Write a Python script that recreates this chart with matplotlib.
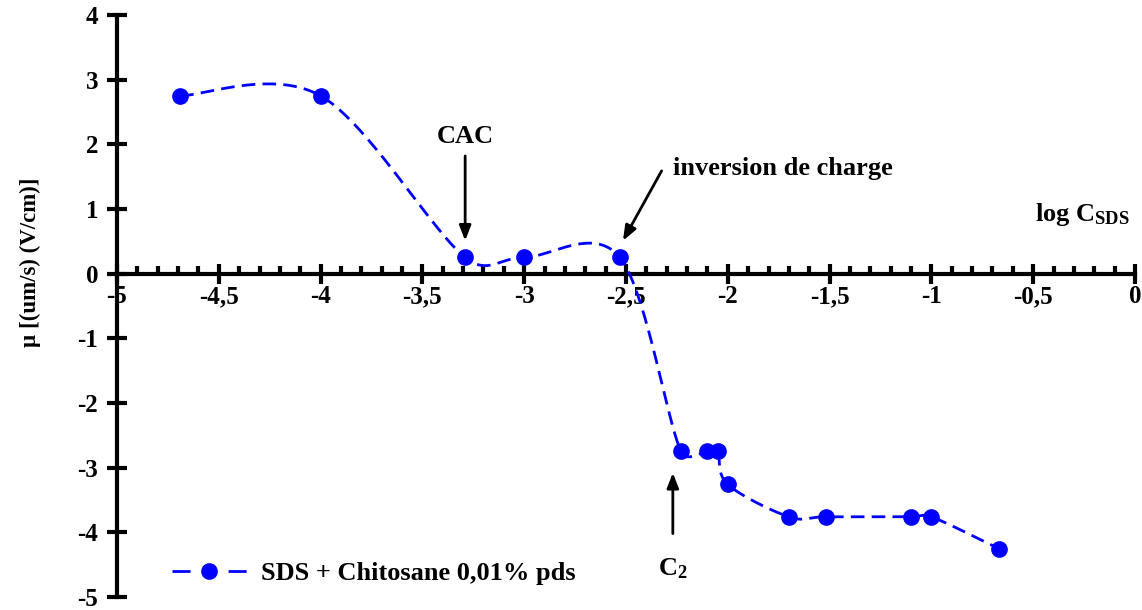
import numpy as np
import matplotlib
matplotlib.use("Agg")
import matplotlib.pyplot as plt
from matplotlib.lines import Line2D

log_c = [-4.69, -4.0, -3.29, -3.0, -2.53, -2.23, -2.10, -2.05, -2.0, -1.70, -1.52, -1.10, -1.0, -0.67]
mu = [2.75, 2.75, 0.25, 0.25, 0.25, -2.75, -2.75, -2.75, -3.26, -3.76, -3.76, -3.76, -3.76, -4.25]
x_ticks = [-5, -4.5, -4, -3.5, -3, -2.5, -2, -1.5, -1, -0.5, 0]
x_labels = ["-5", "-4,5", "-4", "-3,5", "-3", "-2,5", "-2", "-1,5", "-1", "-0,5", "0"]
y_ticks = [4, 3, 2, 1, 0, -1, -2, -3, -4, -5]
series_label = "SDS + Chitosane 0,01% pds"

plt.rcParams['font.family'] = ['Liberation Serif', 'DejaVu Serif']
plt.rcParams['font.weight'] = 'bold'
plt.rcParams['mathtext.fontset'] = 'custom'
plt.rcParams['mathtext.rm'] = 'Liberation Serif:bold'
plt.rcParams['mathtext.bf'] = 'Liberation Serif:bold'
plt.rcParams['mathtext.it'] = 'Liberation Serif:bold'

W, H = 1142, 610
XMIN, XMAX, YMIN, YMAX = -5, 0, -5, 4
ax_px = (117, 1135, 15, 597)  # left, right, top, bottom in pixels
sxp = (ax_px[1] - ax_px[0]) / (XMAX - XMIN)
syp = (ax_px[3] - ax_px[2]) / (YMAX - YMIN)


def smooth(xs, ys, n=40):
    # Excel-like smoothed line (Bezier, 1/6 tension, capped), computed in pixel space
    P = np.column_stack([np.array(xs) * sxp, np.array(ys) * syp])
    out = []
    m = len(P)
    for i in range(m - 1):
        p0 = P[i - 1] if i > 0 else P[i]
        p1 = P[i]
        p2 = P[i + 1]
        p3 = P[i + 2] if i + 2 < m else P[i + 1]
        d12 = np.linalg.norm(p2 - p1)
        t1 = (p2 - p0) / 6.0
        t2 = (p3 - p1) / 6.0
        for t in (t1, t2):
            L = np.linalg.norm(t)
            if L > d12 / 2 and L > 0:
                t *= (d12 / 2) / L
        c1 = p1 + t1
        c2 = p2 - t2
        tt = np.linspace(0, 1, n)[:, None]
        seg = ((1 - tt) ** 3) * p1 + 3 * ((1 - tt) ** 2) * tt * c1 + 3 * (1 - tt) * tt ** 2 * c2 + tt ** 3 * p2
        out.append(seg if i == 0 else seg[1:])
    arr = np.vstack(out)
    return arr[:, 0] / sxp, arr[:, 1] / syp


fig = plt.figure(figsize=(11.42, 6.10), dpi=100)
ax = fig.add_axes([ax_px[0] / W, 1 - ax_px[3] / H, (ax_px[1] - ax_px[0]) / W, (ax_px[3] - ax_px[2]) / H])
ax.set_xlim(XMIN, XMAX)
ax.set_ylim(YMIN, YMAX)
ax.patch.set_alpha(0)

blue = '#0000FF'
dash = (0, (4.9, 2.6))
sx, sy = smooth(log_c, mu)
ax.plot(sx, sy, color=blue, lw=2, linestyle=dash, zorder=3, clip_on=False)
ax.plot(log_c, mu, 'o', color=blue, ms=11, zorder=4, clip_on=False)

for s in ['top', 'right']:
    ax.spines[s].set_visible(False)
ax.spines['bottom'].set_position(('data', 0))
ax.spines['left'].set_position(('data', -5))
ax.spines['bottom'].set_linewidth(3)
ax.spines['left'].set_linewidth(3)

ax.set_xticks(x_ticks)
ax.set_xticklabels(x_labels)
ax.set_xticks(np.arange(-5, 0.001, 0.1), minor=True)
ax.set_yticks(y_ticks)
ax.set_yticklabels([str(v) for v in y_ticks])
ax.tick_params(axis='x', which='major', direction='inout', length=14.5, width=3, pad=1, labelsize=18)
ax.tick_params(axis='x', which='minor', direction='in', length=6, width=3)
ax.tick_params(axis='y', which='major', direction='inout', length=15, width=3, pad=6, labelsize=18)
for lab in ax.get_xticklabels() + ax.get_yticklabels():
    lab.set_fontweight('bold')

fig.text(30 / W, 1 - 262 / H, "µ [(um/s) (V/cm)]", rotation=90, ha='center', va='center',
         fontsize=16.5, fontweight='bold')
fig.text(1130 / W, 1 - 214 / H, r"log C$_{\mathbf{SDS}}$", ha='right', va='center',
         fontsize=19, fontweight='bold')

arrow = dict(arrowstyle='-|>,head_length=0.9,head_width=0.35', color='black', lw=2,
             shrinkA=0, shrinkB=0)
ax.text(-3.29, 2.12, "CAC", ha='center', va='center', fontsize=19, fontweight='bold')
ax.annotate("", xy=(-3.29, 0.51), xytext=(-3.29, 1.82), arrowprops=arrow)
ax.text(-2.27, 1.62, "inversion de charge", ha='left', va='center', fontsize=19, fontweight='bold')
ax.annotate("", xy=(-2.515, 0.51), xytext=(-2.325, 1.59), arrowprops=arrow)
ax.text(-2.27, -4.56, r"C$_{\mathbf{2}}$", ha='center', va='center', fontsize=19, fontweight='bold')
ax.annotate("", xy=(-2.27, -3.08), xytext=(-2.27, -4.02), arrowprops=arrow)

handle = Line2D([], [], color=blue, lw=2, linestyle=(0, (6.5, 13.7)), marker='o', ms=11)
fig.legend([handle], [series_label], loc='center left', bbox_to_anchor=(172 / W, 1 - 573 / H),
           frameon=False, prop=dict(size=19, weight='bold'), handlelength=2.84, handletextpad=0.55,
           borderpad=0, borderaxespad=0)

fig.savefig("out.png", dpi=100)
